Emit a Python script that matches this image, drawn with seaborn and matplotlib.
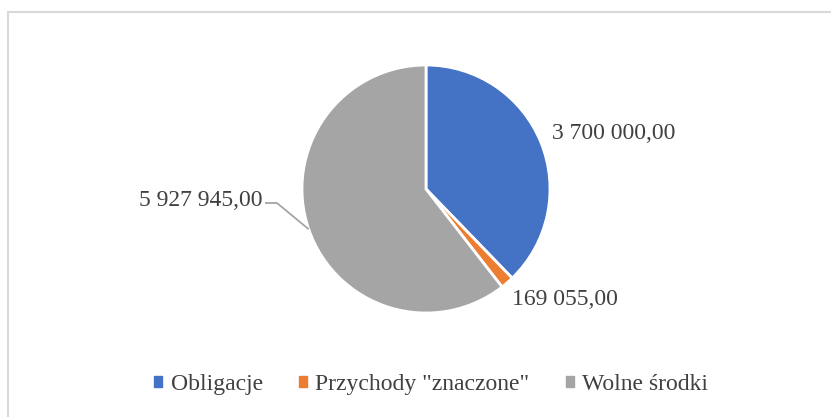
import numpy as np
import matplotlib
matplotlib.use("Agg")
import matplotlib.pyplot as plt
import seaborn as sns
from matplotlib.patches import Rectangle

# Data
categories = ['Obligacje', 'Przychody "znaczone"', 'Wolne środki']
values = [3700000.00, 169055.00, 5927945.00]
colors = ['#4472C4', '#ED7D31', '#A5A5A5']

sns.set_theme(style="white")
plt.rcParams['font.family'] = ['Liberation Serif', 'DejaVu Serif']
text_color = '#404040'


def pl_fmt(v):
    return f"{v:,.2f}".replace(",", " ").replace(".", ",")


W, H, R = 831, 417, 124.0
cx, cy = 426, 189
fig = plt.figure(figsize=(W / 100, H / 100), dpi=100)
ax = fig.add_axes([0, 0, 1, 1])

wedges, _ = ax.pie(values, colors=colors, startangle=90, counterclock=False,
                   radius=1, center=(0, 0),
                   wedgeprops=dict(edgecolor='white', linewidth=2))
ax.set_xlim(-cx / R, (W - cx) / R)
ax.set_ylim(-(H - cy) / R, cy / R)
ax.set_aspect('equal')
ax.axis('off')

mids = [np.deg2rad((w.theta1 + w.theta2) / 2) for w in wedges]

# label for Obligacje
a = mids[0]
ax.text(1.1 * np.cos(a) + 0.0, 1.2 * np.sin(a), pl_fmt(values[0]),
        ha='left', va='center', fontsize=17, color=text_color)
# label for Przychody
a = mids[1]
ax.text(1.06 * np.cos(a), 1.18 * np.sin(a), pl_fmt(values[1]),
        ha='left', va='center', fontsize=17, color=text_color)
# label for Wolne srodki with leader line
a = mids[2]
ex, ey = np.cos(a), np.sin(a)
kx, ky = -1.202, -0.113
ax.plot([ex, kx, kx - 0.096], [ey, ky, ky], color='#A5A5A5', lw=1.3,
        solid_capstyle='butt')
ax.text(kx - 0.12, ky + 0.02, pl_fmt(values[2]),
        ha='right', va='center', fontsize=17, color=text_color)

handles = [Rectangle((0, 0), 1, 1, color=c) for c in colors]
fig.legend(handles, categories, loc='center', bbox_to_anchor=(0.519, 0.078),
           ncol=3, frameon=False, fontsize=17, handlelength=0.33,
           handleheight=0.33, handletextpad=0.35, columnspacing=1.55,
           labelcolor=text_color)

# outer chart border (only top/left visible)
fig.patches.append(Rectangle((8 / W, -0.1), 1.2, (H - 12) / H + 0.1,
                             transform=fig.transFigure, fill=False,
                             edgecolor='#D9D9D9', lw=1.5))

fig.savefig('out.png', dpi=100, facecolor='white')
